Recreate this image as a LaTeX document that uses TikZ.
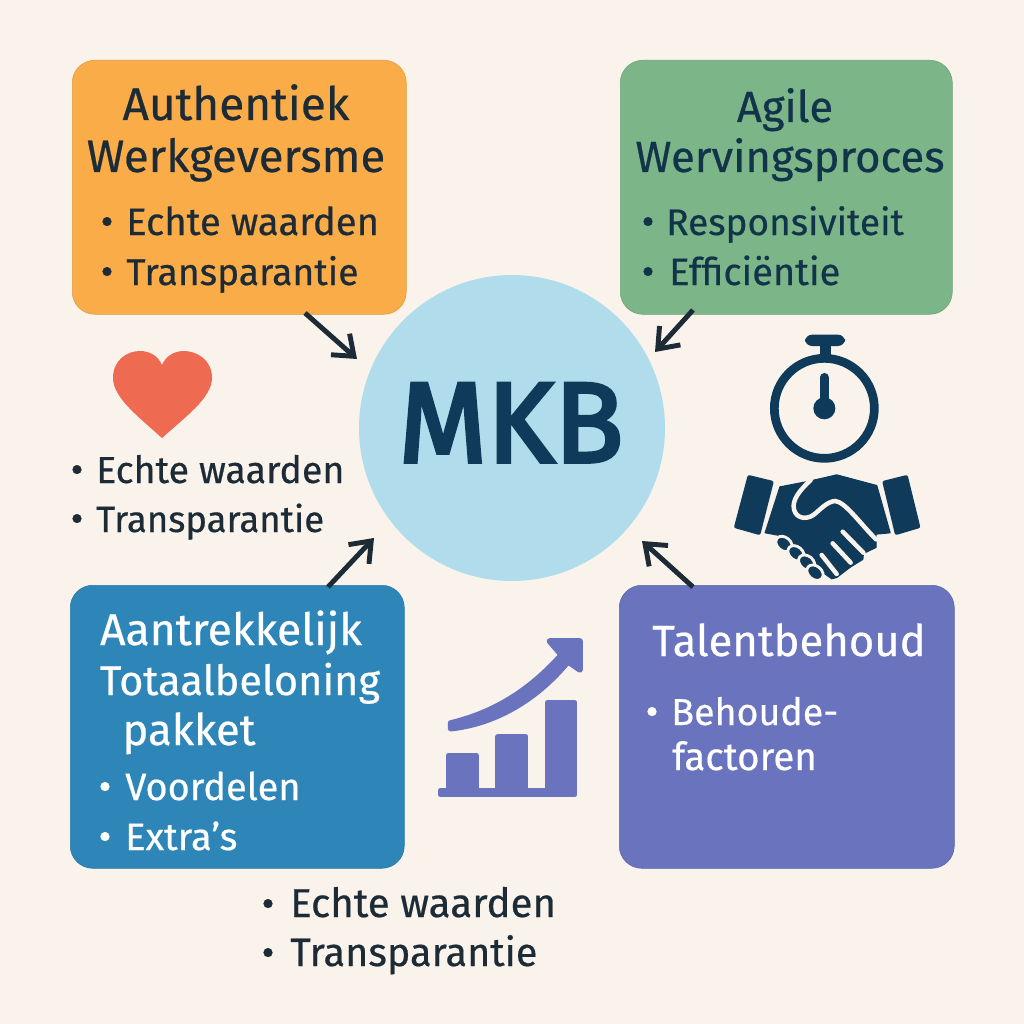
\documentclass[tikz,border=0pt]{standalone}
\usepackage{fontspec}
\setmainfont{Fira Sans}[FakeBold=0.5]
\newfontfamily\hubfont{Fira Sans}[FakeBold=3.2]
\usetikzlibrary{arrows.meta}
\definecolor{bgc}{HTML}{F9F3EC}
\definecolor{orangec}{HTML}{F9AC47}
\definecolor{greenc}{HTML}{7CB587}
\definecolor{bluec}{HTML}{2E86B8}
\definecolor{purplec}{HTML}{6A73BD}
\definecolor{circlec}{HTML}{B0DCEC}
\definecolor{navy}{HTML}{0F3A5A}
\definecolor{inkc}{HTML}{1C2B36}
\definecolor{greenink}{HTML}{12344A}
\definecolor{heartc}{HTML}{EE6A50}
\tikzset{
  x=0.025cm,y=-0.025cm,
  card/.style={rounded corners=16pt,inner sep=0pt,anchor=north west},
  ttl/.style={anchor=base,font=\fontsize{#1}{#1}\selectfont,inner sep=0pt},
  ttl/.default=31,
  itm/.style={anchor=base west,font=\fontsize{#1}{#1}\selectfont,inner sep=0pt},
  itm/.default=27,
  dot/.style={anchor=base,font=\fontsize{28}{28}\selectfont,inner sep=0pt},
  link/.style={draw=inkc,line width=3.5pt,-{Straight Barb[length=13pt,width=20pt,line width=3.5pt]}},
  dark/.style={fill=navy,draw=navy,line join=round},
  gap/.style={draw=bgc,line width=3.2pt,line cap=round},
  iconfill/.style={fill=purplec,draw=purplec,line width=4pt,line join=round},
}
\newcommand{\boxnode}[6]{\node[card,fill=#2,draw=#2!90!black,line width=.4pt,minimum width=#5*0.025cm,minimum height=#6*0.025cm] (#1) at (#3,#4) {};}
\begin{document}
\begin{tikzpicture}
\useasboundingbox[fill=bgc] (0,0) rectangle (1024,1024);
\boxnode{orangebox}{orangec}{72}{60}{334}{254}
\boxnode{greenbox}{greenc}{620}{60}{332}{254}
\boxnode{bluebox}{bluec}{70}{585}{334}{283}
\boxnode{purplebox}{purplec}{619}{585}{335}{283}
\node[circle,fill=circlec,minimum size=306*0.025cm,inner sep=0pt] (hub) at (512,428) {};
\node[anchor=base,font=\fontsize{81}{81}\selectfont\hubfont,text=navy,inner sep=0pt] (mkb) at (511,462) {MKB};
% orange
\node[ttl=32.7,text=inkc] (t1a) at (236,120) {Authentiek};
\node[ttl=32.3,text=inkc] (t1b) at (236,172) {Werkgeversme};
\node[dot,text=inkc] (d1a) at (107,235) {•};
\node[itm=27.2,text=inkc] (i1a) at (126,235) {Echte waarden};
\node[dot,text=inkc] (d1b) at (107,285) {•};
\node[itm=26.5,text=inkc] (i1b) at (126,285) {Transparantie};
% green
\node[ttl=31,text=greenink] (t2a) at (785,122) {Agile};
\node[ttl=31,text=greenink] (t2b) at (790,172) {Wervingsproces};
\node[dot,text=greenink] (d2a) at (648,235) {•};
\node[itm=26.3,text=greenink] (i2a) at (666,235) {Responsiviteit};
\node[dot,text=greenink] (d2b) at (648,285) {•};
\node[itm=27,text=greenink] (i2b) at (669,285) {Efficiëntie};
% blue
\node[ttl=31.6,text=white] (t3a) at (231,645) {Aantrekkelijk};
\node[ttl=29.5,text=white] (t3b) at (240,695) {Totaalbeloning};
\node[ttl=31,text=white] (t3c) at (189,745) {pakket};
\node[dot,text=white] (d3a) at (105,800) {•};
\node[itm=27,text=white] (i3a) at (125,800) {Voordelen};
\node[dot,text=white] (d3b) at (105,850) {•};
\node[itm=27,text=white] (i3b) at (125,850) {Extra's};
% purple
\node[ttl=31,text=white] (t4a) at (789,656) {Talentbehoud};
\node[dot,text=white] (d4a) at (652,725) {•};
\node[itm=26.7,text=white] (i4a) at (671,725) {Behoude-};
\node[itm=27.4,text=white] (i4b) at (672,770) {factoren};
% left list
\node[dot,text=inkc] (d5a) at (77,483) {•};
\node[itm=26.7,text=inkc] (i5a) at (96,483) {Echte waarden};
\node[dot,text=inkc] (d5b) at (77,532) {•};
\node[itm=26,text=inkc] (i5b) at (96,532) {Transparantie};
% bottom list
\node[dot,text=inkc] (d6a) at (268,917) {•};
\node[itm=28.6,text=inkc] (i6a) at (290,917) {Echte waarden};
\node[dot,text=inkc] (d6b) at (268,966) {•};
\node[itm=28.2,text=inkc] (i6b) at (290,966) {Transparantie};
% connectors
\coordinate (a1) at (305,313); \coordinate (b1) at (357,359);
\coordinate (a2) at (693,310); \coordinate (b2) at (655,352);
\coordinate (a3) at (328,587); \coordinate (b3) at (374,538);
\coordinate (a4) at (693,587); \coordinate (b4) at (642,541);
\draw[link] (a1) -- (b1);
\draw[link] (a2) -- (b2);
\draw[link] (a3) -- (b3);
\draw[link] (a4) -- (b4);
% heart
\fill[heartc] (162,438) .. controls (140,418) and (113,398) .. (113,378)
  .. controls (113,360) and (127,351) .. (140,351)
  .. controls (150,351) and (158,356) .. (162,365)
  .. controls (166,356) and (174,351) .. (184,351)
  .. controls (197,351) and (212,360) .. (212,378)
  .. controls (212,398) and (184,418) .. (162,438) -- cycle;
% stopwatch and handshake (coordinates of the 3x crop)
\begin{scope}[shift={(720,340)},x=0.025cm/3,y=-0.025cm/3]
  \draw[navy,line width=6.2pt] (313,205) circle (150);
  \fill[navy] (300,-10) rectangle (332,60);
  \fill[navy,rounded corners=5pt] (255,-16) rectangle (375,18);
  \draw[navy,line width=6.2pt,line cap=round] (313,112) -- (313,200);
  \fill[navy] (313,205) circle (33);
  % cuffs
  \draw[dark,line width=3pt] (88,412) -- (154,428) -- (116,578) -- (49,559) -- cycle;
  \draw[dark,line width=3pt] (494,428) -- (558,412) -- (594,559) -- (530,578) -- cycle;
  % hands
  \draw[dark,line width=1pt] (180,441) -- (268,424) -- (350,405) -- (470,437) -- (510,578)
     -- (468,582) -- (468,622) -- (430,640) -- (428,658) -- (392,680) -- (350,712) -- (335,716)
     -- (300,690) -- (250,650) -- (200,590) -- (136,578) -- cycle;
  \draw[gap] (272,420) .. controls (240,450) and (215,480) .. (222,508)
     .. controls (228,535) and (258,540) .. (280,525)
     .. controls (300,510) and (320,485) .. (345,483)
     .. controls (375,485) and (420,550) .. (468,598);
  \draw[gap] (368,575) -- (430,638);
  \draw[gap] (338,610) -- (392,668);
  \draw[gap] (305,645) -- (350,702);
  \foreach \cx/\cy in {192/612,228/640,260/668,285/698}
    \draw[fill=navy,draw=bgc,line width=2pt,rotate around={-40:(\cx,\cy)}] (\cx,\cy) ellipse (27 and 20);
\end{scope}
% growth chart
\begin{scope}[shift={(420,620)},x=0.025cm/3,y=-0.025cm/3]
  \path[iconfill] (62,511) -- (86,511) -- (86,406) -- (168,406) -- (168,511) -- (234,511) -- (234,350) -- (317,350)
    -- (317,511) -- (383,511) -- (383,248) -- (464,248) -- (464,524) -- (62,524) -- cycle;
  \path[iconfill] (92,309) .. controls (220,278) and (325,215) .. (424,105) -- (388,63) -- (480,63)
    -- (480,150) -- (444,125) .. controls (345,245) and (220,312) .. (92,326) -- cycle;
\end{scope}
\end{tikzpicture}
\end{document}
